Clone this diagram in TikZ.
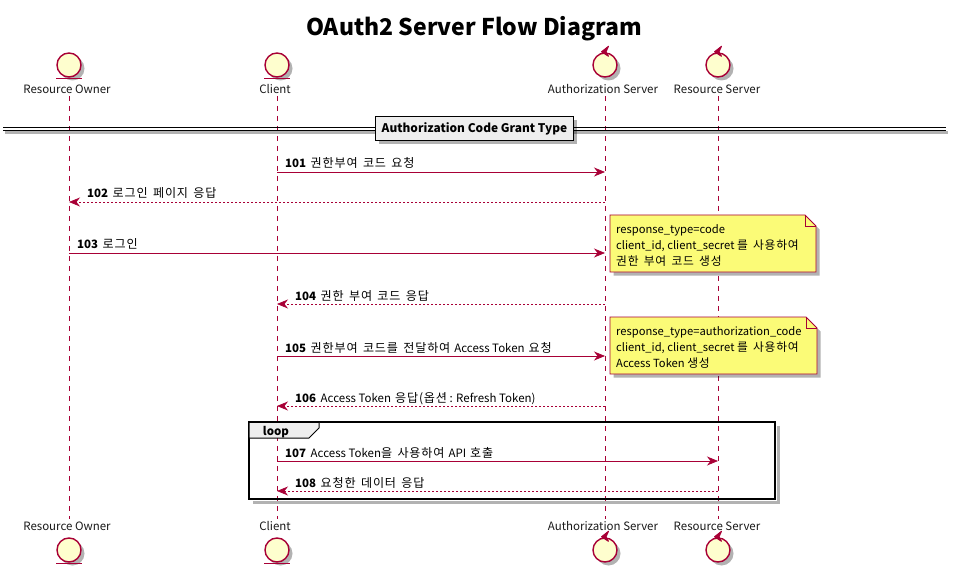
\documentclass[tikz,border=0pt]{standalone}
\usepackage{fontspec}
\setmainfont{Noto Sans CJK KR}
\newfontfamily\krfont[Scale=1.05, LetterSpace=7, WordSpace=1.5]{Noto Sans CJK KR}
\newcommand{\kr}[1]{{\krfont #1}}
\newcommand{\msgno}[1]{\textbf{#1}\hspace{4.5pt}}
\usepackage{xcolor}
\usetikzlibrary{arrows.meta,positioning,shadows}
\definecolor{umlline}{HTML}{A80036}
\definecolor{umlhead}{HTML}{FEFECE}
\definecolor{umlnote}{HTML}{FBFB77}
\definecolor{umlgroup}{HTML}{EEEEEE}
\tikzset{
  softshadow/.style={drop shadow={shadow xshift=3.5pt, shadow yshift=-3.5pt, fill=black, opacity=0.3}},
  headcirc/.style={circle, draw=umlline, line width=1.4pt, fill=umlhead, minimum size=24pt, inner sep=0pt, softshadow},
  headtext/.style={font=\fontsize{11.5}{13}\selectfont, inner sep=0pt, text=black!90, text height=9pt, text depth=3pt},
  ctrlmark/.style={fill=umlline, draw=umlline, line width=1pt, line join=round},
  lifeline/.style={draw=umlline, line width=0.8pt, dash pattern=on 5pt off 5pt},
  msgcall/.style={->, draw=umlline, line width=0.8pt},
  msgback/.style={->, draw=umlline, line width=0.8pt, dash pattern=on 2pt off 2pt},
  msgtext/.style={font=\fontsize{11.5}{13}\selectfont, inner sep=0pt, anchor=base west},
  notebox/.style={draw=umlline, line width=0.8pt, fill=umlnote, softshadow},
  notetext/.style={font=\fontsize{11.2}{16}\selectfont, inner sep=0pt, anchor=north west, align=left},
}
\begin{document}
\begin{tikzpicture}[x=1pt, y=-1pt, >={Stealth[length=11pt, width=9pt, inset=3.5pt]}]
\useasboundingbox (0,0) rectangle (956,572);

% Title
\node[font=\fontsize{23}{26}\selectfont\bfseries, inner sep=0pt] (title) at (474,29) {OAuth2 Server Flow Diagram};

% Lifeline ends
\foreach \who/\x in {owner/69, client/277, authsrv/605, ressrv/718} {
  \coordinate (\who top) at (\x,96);
  \coordinate (\who bot) at (\x,519);
  \draw[lifeline] (\who top) -- (\who bot);
  % Points where the messages meet this lifeline
  \foreach \n/\y in {101/172, 102/202, 103/253, 104/304, 105/356, 106/406, 107/461, 108/491}
    \coordinate (\who\n) at (\x,\y);
}

% Participants, top
\node[headcirc] (ownerhead) at (69,65) {};
\draw[umlline, line width=1.4pt] ([xshift=-13pt,yshift=-1pt]ownerhead.south) -- ([xshift=13pt,yshift=-1pt]ownerhead.south);
\node[headcirc] (clienthead) at (277,65) {};
\draw[umlline, line width=1.4pt] ([xshift=-13pt,yshift=-1pt]clienthead.south) -- ([xshift=13pt,yshift=-1pt]clienthead.south);
\node[headcirc] (authsrvhead) at (605,65) {};
\draw[ctrlmark] (authsrvhead.north) ++(3.5,-6) -- ++(-7,5.5) -- ++(7,4.5) -- ++(-2.5,-4.5) -- cycle;
\node[headcirc] (ressrvhead) at (718,65) {};
\draw[ctrlmark] (ressrvhead.north) ++(3.5,-6) -- ++(-7,5.5) -- ++(7,4.5) -- ++(-2.5,-4.5) -- cycle;
\node[headtext] (ownername) at (67,90.5) {Resource Owner};
\node[headtext] (clientname) at (275,90.5) {Client};
\node[headtext] (authsrvname) at (603,90.5) {Authorization Server};
\node[headtext] (ressrvname) at (717,90.5) {Resource Server};

% Participants, bottom
\node[headcirc] (ownerfoot) at (69,550) {};
\draw[umlline, line width=1.4pt] ([xshift=-13pt,yshift=-1pt]ownerfoot.south) -- ([xshift=13pt,yshift=-1pt]ownerfoot.south);
\node[headcirc] (clientfoot) at (277,550) {};
\draw[umlline, line width=1.4pt] ([xshift=-13pt,yshift=-1pt]clientfoot.south) -- ([xshift=13pt,yshift=-1pt]clientfoot.south);
\node[headcirc] (authsrvfoot) at (605,550) {};
\draw[ctrlmark] (authsrvfoot.north) ++(3.5,-6) -- ++(-7,5.5) -- ++(7,4.5) -- ++(-2.5,-4.5) -- cycle;
\node[headcirc] (ressrvfoot) at (718,550) {};
\draw[ctrlmark] (ressrvfoot.north) ++(3.5,-6) -- ++(-7,5.5) -- ++(7,4.5) -- ++(-2.5,-4.5) -- cycle;
\node[headtext] (ownerlow) at (67,527.5) {Resource Owner};
\node[headtext] (clientlow) at (275,527.5) {Client};
\node[headtext] (authsrvlow) at (603,527.5) {Authorization Server};
\node[headtext] (ressrvlow) at (717,527.5) {Resource Server};

% Divider
\fill[black, opacity=0.3] (5,131) rectangle (948,134);
\draw[black, line width=1.1pt] (3,127.5) -- (946,127.5);
\draw[black, line width=1.1pt] (3,130.5) -- (946,130.5);
\node[draw=black, line width=1.5pt, fill=umlgroup, softshadow, minimum width=198pt, minimum height=24pt, inner sep=0pt, font=\fontsize{11.9}{13}\selectfont\bfseries] (divider) at (474.5,128.5) {Authorization Code Grant Type};

% Messages
\draw[msgcall] (client101) -- (authsrv101);
\node[msgtext] (label101) at (285,168) {\msgno{101}\kr{권한부여 코드 요청}};
\draw[msgback] (authsrv102) -- (owner102);
\node[msgtext] (label102) at (87,198) {\msgno{102}\kr{로그인 페이지 응답}};
\draw[msgcall] (owner103) -- (authsrv103);
\node[msgtext] (label103) at (77,249) {\msgno{103}\kr{로그인}};
\draw[msgback] (authsrv104) -- (client104);
\node[msgtext] (label104) at (295,300) {\msgno{104}\kr{권한 부여 코드 응답}};
\draw[msgcall] (client105) -- (authsrv105);
\node[msgtext] (label105) at (285,352) {\msgno{105}\kr{권한부여 코드를 전달하여}\hspace{4pt}Access Token\hspace{4pt}\kr{요청}};
\draw[msgback] (authsrv106) -- (client106);
\node[msgtext] (label106) at (295,402) {\msgno{106}Access Token\hspace{4pt}\kr{응답(옵션} : Refresh Token)};

% Notes
\path[notebox] (610,215) -- (805,215) -- (816,226) -- (816,272) -- (610,272) -- cycle;
\draw[umlline, line width=0.8pt] (805,215) -- (805,226) -- (816,226);
\node[notetext] (note103) at (616,224) {response\_type=code\\client\_id, client\_secret \kr{를 사용하여}\\\kr{권한 부여 코드 생성}};
\path[notebox] (610,317) -- (806,317) -- (817,328) -- (817,374) -- (610,374) -- cycle;
\draw[umlline, line width=0.8pt] (806,317) -- (806,328) -- (817,328);
\node[notetext] (note105) at (616,326) {response\_type=authorization\_code\\client\_id, client\_secret \kr{를 사용하여}\\Access Token \kr{생성}};

% Loop frame
\draw[black, opacity=0.3, line width=3pt] (778,425.5) -- (778,502) -- (252.5,502);
\draw[black, line width=2pt] (249,422) rectangle (775,499);
\draw[black, line width=1pt, fill=umlgroup] (249,422) -- (319,422) -- (319,428) -- (309,438) -- (249,438) -- cycle;
\draw[black, line width=2pt] (249,422) -- (319,422);
\node[font=\fontsize{11.5}{13}\selectfont\bfseries, inner sep=0pt] (looptag) at (276,432) {loop};

\draw[msgcall] (client107) -- (ressrv107);
\node[msgtext] (label107) at (285,457) {\msgno{107}Access Token\kr{을 사용하여}\hspace{4pt}API\hspace{4pt}\kr{호출}};
\draw[msgback] (ressrv108) -- (client108);
\node[msgtext] (label108) at (295,487) {\msgno{108}\kr{요청한 데이터 응답}};
\end{tikzpicture}
\end{document}
